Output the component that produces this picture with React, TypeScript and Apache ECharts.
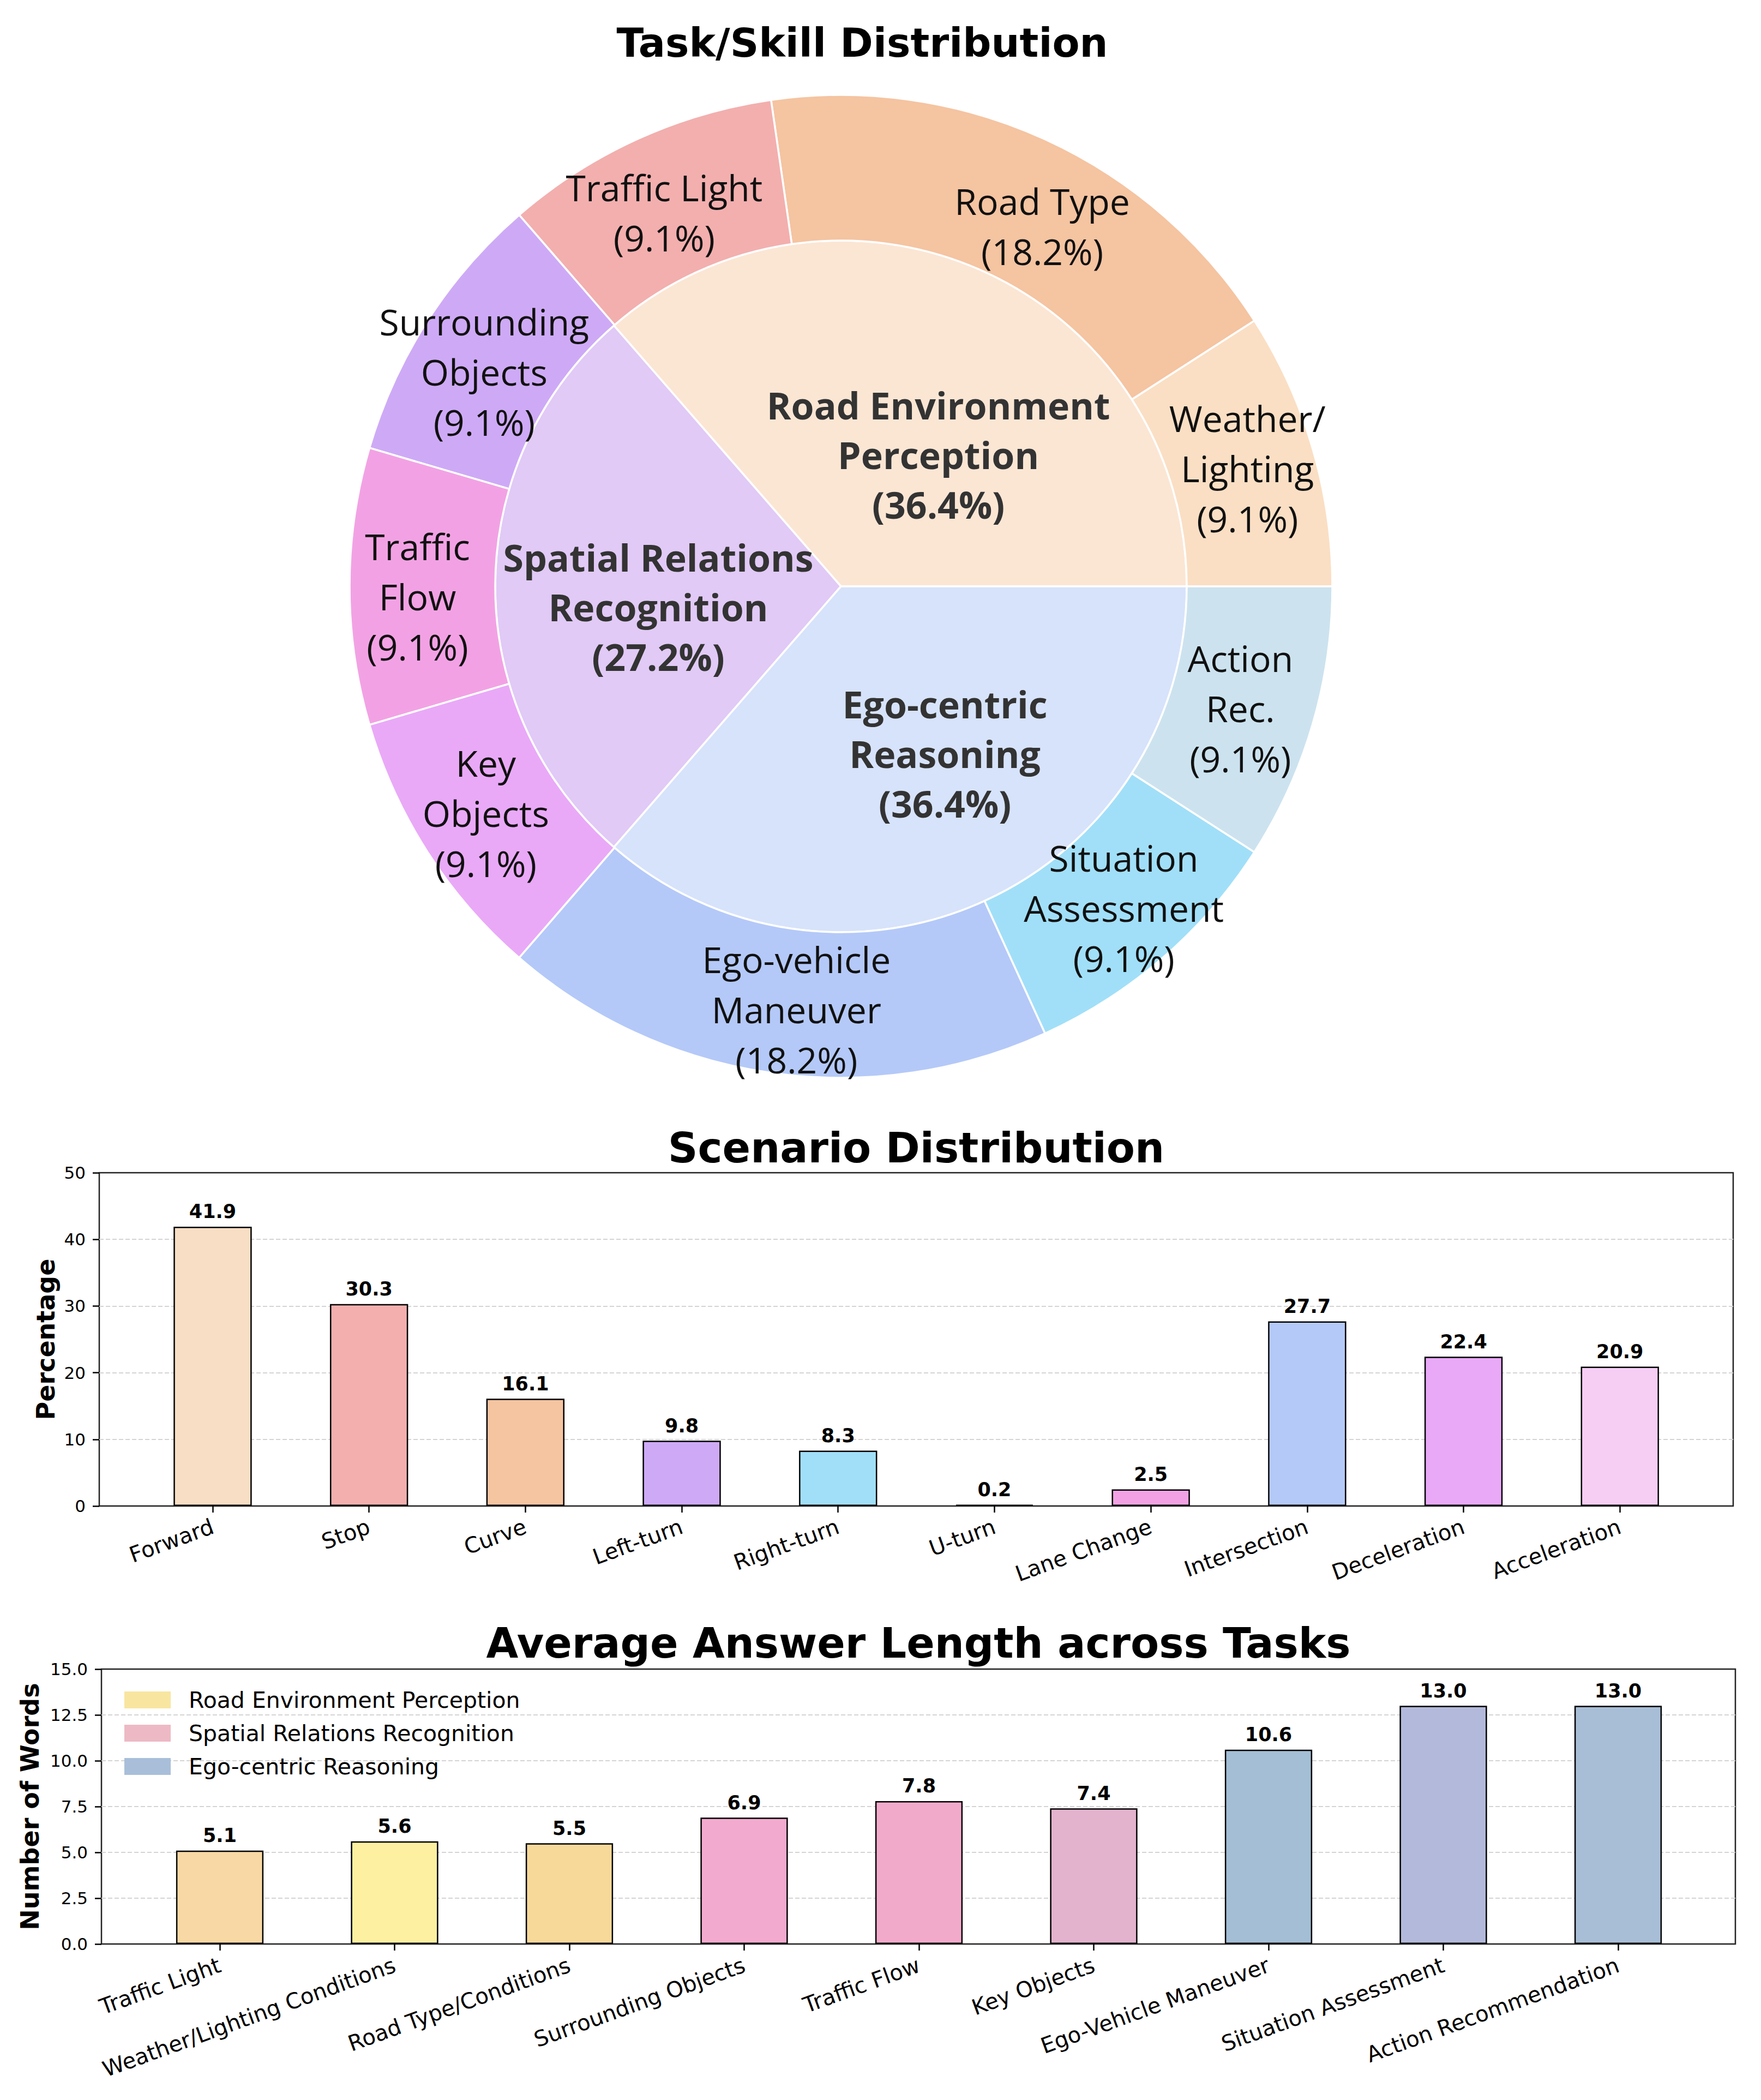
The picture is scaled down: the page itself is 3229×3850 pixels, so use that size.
import React, { useEffect, useRef } from "react";
import * as echarts from "echarts";

// ---------- Data ----------
const innerNames = ["Road Environment\nPerception", "Spatial Relations\nRecognition", "Ego-centric\nReasoning"];
const innerValues = [36.4, 27.2, 36.4];
const innerColors = ["#FBE6D4", "#E1CAF6", "#D7E3FA"];

const outerNames = [
  "Weather/\nLighting",
  "Road Type",
  "Traffic Light",
  "Surrounding\nObjects",
  "Traffic\nFlow",
  "Key\nObjects",
  "Ego-vehicle\nManeuver",
  "Situation\nAssessment",
  "Action\nRec.",
];
const outerValues = [9.1, 18.2, 9.1, 9.1, 9.1, 9.1, 18.2, 9.1, 9.1];
const outerColors = ["#FADFC4", "#F5C4A1", "#F2AFAE", "#CEAAF6", "#F2A2E4", "#E9A9F7", "#B4C9F8", "#A1DFF8", "#CCE3EF"];

const scenarioCats = ["Forward", "Stop", "Curve", "Left-turn", "Right-turn", "U-turn", "Lane Change", "Intersection", "Deceleration", "Acceleration"];
const scenarioValues = [41.9, 30.3, 16.1, 9.8, 8.3, 0.2, 2.5, 27.7, 22.4, 20.9];
const scenarioColors = ["#F8DEC4", "#F2AFAE", "#F5C4A1", "#CEAAF6", "#A1DFF8", "#C5E8D0", "#F2A2E4", "#B4C9F8", "#E9A9F7", "#F6CEF4"];
const scenarioTicks = [0, 10, 20, 30, 40, 50];

const taskCats = [
  "Traffic Light",
  "Weather/Lighting Conditions",
  "Road Type/Conditions",
  "Surrounding Objects",
  "Traffic Flow",
  "Key Objects",
  "Ego-Vehicle Maneuver",
  "Situation Assessment",
  "Action Recommendation",
];
const taskValues = [5.1, 5.6, 5.5, 6.9, 7.8, 7.4, 10.6, 13.0, 13.0];
const taskColors = ["#F8D8A4", "#FDF0A0", "#F7D99A", "#F2AACE", "#F2AACB", "#E3B2CD", "#A3BED5", "#B3B9DA", "#A7BED6"];
const taskTicks = [0, 2.5, 5, 7.5, 10, 12.5, 15];

const legendNames = ["Road Environment Perception", "Spatial Relations Recognition", "Ego-centric Reasoning"];
const legendColors = ["#F8E6A0", "#EDB9C4", "#A9BFD9"];

// label fine placement (style only)
const innerOffsets = [[46, 50], [-15, 37], [58, 15]];
const outerOffsets = [[6, 0], [49, 40], [-4, 15], [-6, 23], [-6, 18], [-3, -2], [28, 12], [14, 7], [-7, 6]];

const DV = "DejaVu Sans";
const PF = "Open Sans";

export default function App() {
  const ref = useRef<HTMLDivElement>(null);
  useEffect(() => {
    if (!ref.current) return;
    const chart = echarts.init(ref.current, undefined, { renderer: "svg" });

    const tickStyle = { show: true, length: 12, lineStyle: { color: "#000", width: 2.5 } };
    const splitStyle = {
      show: true,
      showMinLine: false,
      showMaxLine: false,
      lineStyle: { type: [8, 4], color: "#d4d4d4", width: 2 },
    };
    const tickLabel = { fontSize: 31, fontFamily: DV, color: "#000" };
    const xLabel = { fontSize: 40, fontFamily: DV, color: "#000" };

    const option: any = {
      animation: false,
      backgroundColor: "#fff",
      graphic: [
        { type: "text", x: 1581, y: 78, style: { text: "Task/Skill Distribution", fontSize: 73, fontWeight: "bold", fontFamily: DV, fill: "#000", align: "center", verticalAlign: "middle" } },
        { type: "text", x: 1680, y: 2104, style: { text: "Scenario Distribution", fontSize: 76, fontWeight: "bold", fontFamily: DV, fill: "#000", align: "center", verticalAlign: "middle" } },
        { type: "text", x: 1684, y: 3012, style: { text: "Average Answer Length across Tasks", fontSize: 76, fontWeight: "bold", fontFamily: DV, fill: "#000", align: "center", verticalAlign: "middle" } },
      ],
      legend: {
        orient: "vertical",
        left: 223,
        top: 3091,
        itemWidth: 85,
        itemHeight: 31,
        itemGap: 20,
        icon: "rect",
        selectedMode: false,
        data: legendNames,
        textStyle: { fontSize: 41, fontFamily: DV, color: "#000", lineHeight: 31, padding: [0, 0, 0, 28] },
      },
      grid: [
        { left: 182, top: 2150, width: 2996, height: 611, show: true, borderColor: "#222", borderWidth: 2.5, backgroundColor: "transparent" },
        { left: 246.6, top: 2150, width: 2867, height: 611 },
        { left: 186, top: 3060, width: 2996, height: 504, show: true, borderColor: "#222", borderWidth: 2.5, backgroundColor: "transparent" },
        { left: 242.75, top: 3060, width: 2884.5, height: 504 },
      ],
      xAxis: [
        { gridIndex: 0, type: "value", show: false, min: 0, max: 1 },
        {
          gridIndex: 1,
          type: "category",
          data: scenarioCats,
          axisLine: { show: false },
          axisTick: { ...tickStyle, alignWithLabel: true },
          axisLabel: { ...xLabel, rotate: 20, margin: 36, interval: 0 },
        },
        { gridIndex: 2, type: "value", show: false, min: 0, max: 1 },
        {
          gridIndex: 3,
          type: "category",
          data: taskCats,
          axisLine: { show: false },
          axisTick: { ...tickStyle, alignWithLabel: true },
          axisLabel: { ...xLabel, rotate: 20, margin: 37, interval: 0 },
        },
      ],
      yAxis: [
        {
          gridIndex: 0,
          type: "value",
          min: scenarioTicks[0],
          max: scenarioTicks[scenarioTicks.length - 1],
          interval: 10,
          name: "Percentage",
          nameLocation: "middle",
          nameGap: 74,
          nameTextStyle: { fontSize: 46, fontWeight: "bold", fontFamily: DV, color: "#000", lineHeight: 46 },
          axisLine: { show: false },
          axisTick: tickStyle,
          axisLabel: { ...tickLabel, margin: 25 },
          splitLine: splitStyle,
        },
        { gridIndex: 1, type: "value", min: 0, max: 50, show: false, splitLine: { show: false } },
        {
          gridIndex: 2,
          type: "value",
          min: taskTicks[0],
          max: taskTicks[taskTicks.length - 1],
          interval: 2.5,
          name: "Number of Words",
          nameLocation: "middle",
          nameGap: 108,
          nameTextStyle: { fontSize: 46, fontWeight: "bold", fontFamily: DV, color: "#000", lineHeight: 46 },
          axisLine: { show: false },
          axisTick: tickStyle,
          axisLabel: { ...tickLabel, margin: 25, formatter: (v: number) => v.toFixed(1) },
          splitLine: splitStyle,
        },
        { gridIndex: 3, type: "value", min: 0, max: 15, show: false, splitLine: { show: false } },
      ],
      series: [
        {
          type: "pie",
          center: [1542, 1075],
          radius: [0, 634],
          startAngle: 0,
          clockwise: false,
          silent: true,
          data: innerNames.map((n, i) => ({ name: n, value: innerValues[i], itemStyle: { color: innerColors[i] } })),
          itemStyle: { borderColor: "#fff", borderWidth: 3.5 },
          label: {
            show: true,
            position: "inside",
            formatter: "{b}\n({c}%)",
            fontSize: 68,
            fontWeight: "bold",
            fontFamily: PF,
            color: "#333",
            lineHeight: 91,
            align: "center",
          },
          labelLine: { show: false },
          labelLayout: (p: any) => ({ dx: innerOffsets[p.dataIndex][0], dy: innerOffsets[p.dataIndex][1] }),
          emphasis: { disabled: true },
        },
        {
          type: "pie",
          center: [1542, 1075],
          radius: [634, 901],
          startAngle: 0,
          clockwise: false,
          silent: true,
          data: outerNames.map((n, i) => ({ name: n, value: outerValues[i], itemStyle: { color: outerColors[i] } })),
          itemStyle: { borderColor: "#fff", borderWidth: 3.5 },
          label: {
            show: true,
            position: "inside",
            formatter: "{b}\n({c}%)",
            fontSize: 66,
            fontFamily: PF,
            color: "#111",
            lineHeight: 92,
            align: "center",
          },
          labelLine: { show: false },
          labelLayout: (p: any) => ({ dx: outerOffsets[p.dataIndex][0], dy: outerOffsets[p.dataIndex][1] }),
          emphasis: { disabled: true },
        },
        {
          type: "bar",
          name: "Scenario",
          xAxisIndex: 1,
          yAxisIndex: 1,
          barWidth: "50%",
          data: scenarioValues.map((v, i) => ({ value: v, itemStyle: { color: scenarioColors[i] } })),
          itemStyle: { borderColor: "#000", borderWidth: 2.5 },
          label: {
            show: true,
            position: "top",
            distance: 10,
            formatter: (p: any) => Number(p.value).toFixed(1),
            fontSize: 35,
            fontWeight: "bold",
            fontFamily: DV,
            color: "#000",
          },
          emphasis: { disabled: true },
        },
        {
          type: "bar",
          name: "Average Answer Length",
          xAxisIndex: 3,
          yAxisIndex: 3,
          barWidth: "50%",
          data: taskValues.map((v, i) => ({ value: v, itemStyle: { color: taskColors[i] } })),
          itemStyle: { borderColor: "#000", borderWidth: 2.5 },
          label: {
            show: true,
            position: "top",
            distance: 10,
            formatter: (p: any) => Number(p.value).toFixed(1),
            fontSize: 35,
            fontWeight: "bold",
            fontFamily: DV,
            color: "#000",
          },
          emphasis: { disabled: true },
        },
        ...legendNames.map((n, i) => ({
          type: "line",
          name: n,
          xAxisIndex: 3,
          yAxisIndex: 3,
          data: [],
          color: legendColors[i],
          itemStyle: { color: legendColors[i] },
          lineStyle: { color: legendColors[i] },
        })),
      ],
    };

    chart.setOption(option);
    return () => chart.dispose();
  }, []);

  return <div ref={ref} style={{ position: "absolute", left: 0, top: 0, width: 3229, height: 3850 }} />;
}
